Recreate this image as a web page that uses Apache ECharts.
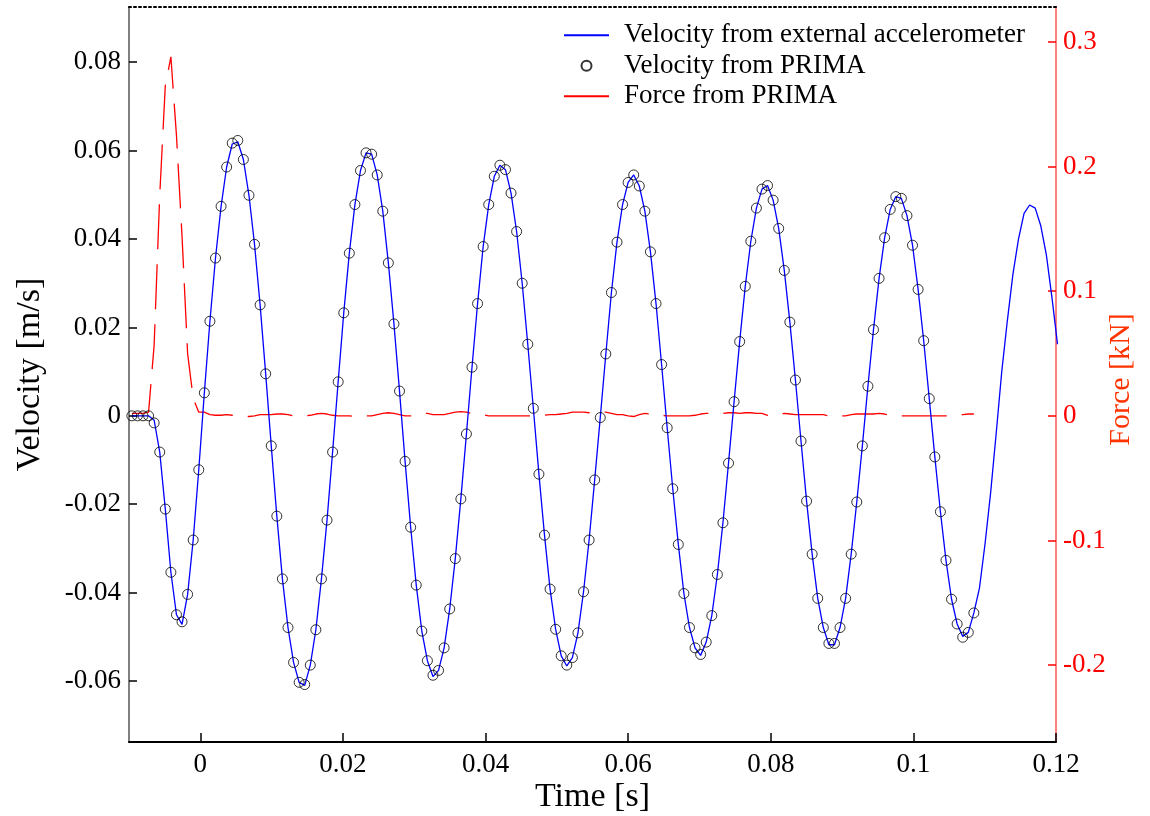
<!DOCTYPE html>
<html>
<head>
<meta charset="utf-8">
<script src="https://cdn.jsdelivr.net/npm/echarts@6/dist/echarts.min.js"></script>
<style>
  html, body { margin: 0; padding: 0; background: #fff; }
  #chart { width: 1150px; height: 816px; }
</style>
</head>
<body>
<div id="chart"></div>
<script>
// PRIMA samples every ~0.78 ms starting before impact
const sampleStart = -0.0096;
const sampleStep = 0.000782;

const timeTicks = [0, 0.02, 0.04, 0.06, 0.08, 0.1, 0.12];
const velocityTicks = [-0.06, -0.04, -0.02, 0, 0.02, 0.04, 0.06, 0.08];
const forceTicks = [-0.2, -0.1, 0, 0.1, 0.2, 0.3];

// velocity from PRIMA [m/s] (circles)
const velocityPrima = [
  0, 0, 0, 0, -0.0016, -0.0082, -0.0211, -0.0354, -0.0450, -0.0466,
  -0.0404, -0.0281, -0.0122, 0.0052, 0.0214, 0.0357, 0.0474, 0.0563, 0.0617, 0.0623,
  0.0580, 0.0499, 0.0388, 0.0251, 0.0095, -0.0068, -0.0227, -0.0369, -0.0479, -0.0558,
  -0.0603, -0.0608, -0.0564, -0.0484, -0.0369, -0.0236, -0.0082, 0.0077, 0.0233, 0.0368,
  0.0478, 0.0555, 0.0595, 0.0592, 0.0545, 0.0463, 0.0346, 0.0208, 0.0056, -0.0103,
  -0.0252, -0.0383, -0.0487, -0.0554, -0.0587, -0.0576, -0.0525, -0.0437, -0.0323, -0.0188,
  -0.0041, 0.0110, 0.0254, 0.0383, 0.0478, 0.0542, 0.0567, 0.0557, 0.0504, 0.0417,
  0.0300, 0.0162, 0.0017, -0.0132, -0.0270, -0.0392, -0.0483, -0.0543, -0.0564, -0.0547,
  -0.0491, -0.0398, -0.0281, -0.0145, -0.0004, 0.0140, 0.0279, 0.0393, 0.0478, 0.0528,
  0.0545, 0.0520, 0.0463, 0.0371, 0.0254, 0.0116, -0.0027, -0.0165, -0.0291, -0.0402,
  -0.0479, -0.0525, -0.0540, -0.0512, -0.0452, -0.0359, -0.0242, -0.0107, 0.0032, 0.0168,
  0.0293, 0.0395, 0.0470, 0.0513, 0.0521, 0.0488, 0.0424, 0.0329, 0.0212, 0.0081,
  -0.0057, -0.0193, -0.0313, -0.0413, -0.0479, -0.0515, -0.0515, -0.0479, -0.0413, -0.0313,
  -0.0195, -0.0068, 0.0067, 0.0195, 0.0311, 0.0403, 0.0467, 0.0496, 0.0492, 0.0453,
  0.0386, 0.0286, 0.0170, 0.0039, -0.0093, -0.0217, -0.0327, -0.0415, -0.0471, -0.0501,
  -0.0490, -0.0446
];

// velocity from external accelerometer [m/s] (blue line, runs a bit longer)
const velocityAccel = [
  0, 0, 0, 0, -0.0010, -0.0082, -0.0211, -0.0354, -0.0450, -0.0472,
  -0.0404, -0.0281, -0.0122, 0.0052, 0.0214, 0.0357, 0.0474, 0.0563, 0.0615, 0.0620,
  0.0580, 0.0499, 0.0388, 0.0251, 0.0095, -0.0068, -0.0227, -0.0369, -0.0479, -0.0558,
  -0.0603, -0.0610, -0.0564, -0.0484, -0.0369, -0.0236, -0.0082, 0.0077, 0.0233, 0.0368,
  0.0478, 0.0555, 0.0595, 0.0592, 0.0545, 0.0463, 0.0346, 0.0208, 0.0056, -0.0103,
  -0.0252, -0.0383, -0.0487, -0.0554, -0.0590, -0.0576, -0.0525, -0.0437, -0.0323, -0.0188,
  -0.0041, 0.0110, 0.0254, 0.0383, 0.0478, 0.0542, 0.0567, 0.0557, 0.0504, 0.0417,
  0.0300, 0.0162, 0.0017, -0.0132, -0.0270, -0.0392, -0.0483, -0.0543, -0.0566, -0.0547,
  -0.0491, -0.0398, -0.0281, -0.0145, -0.0004, 0.0140, 0.0279, 0.0393, 0.0478, 0.0528,
  0.0545, 0.0520, 0.0463, 0.0371, 0.0254, 0.0116, -0.0027, -0.0165, -0.0291, -0.0402,
  -0.0479, -0.0525, -0.0542, -0.0512, -0.0452, -0.0359, -0.0242, -0.0107, 0.0032, 0.0168,
  0.0293, 0.0395, 0.0470, 0.0513, 0.0521, 0.0488, 0.0424, 0.0329, 0.0212, 0.0081,
  -0.0057, -0.0193, -0.0313, -0.0413, -0.0479, -0.0518, -0.0518, -0.0479, -0.0413, -0.0313,
  -0.0195, -0.0068, 0.0067, 0.0195, 0.0311, 0.0403, 0.0467, 0.0496, 0.0492, 0.0453,
  0.0386, 0.0286, 0.0170, 0.0039, -0.0093, -0.0217, -0.0327, -0.0415, -0.0471, -0.0499,
  -0.0490, -0.0446, -0.0390, -0.0290, -0.0175, -0.0040, 0.0100, 0.0215, 0.0320, 0.0400,
  0.0458, 0.0477, 0.0470, 0.0430, 0.0364, 0.0268, 0.0162
];

// force from PRIMA [kN] (red dashed)
const forcePrima = [
  0.002, 0.002, 0.002, 0.003, 0.057, 0.177, 0.265, 0.288, 0.225, 0.144,
  0.050, 0.014, 0.003, 0.003, 0.001, 0.0005, 0.0005, 0.001, 0.0005, 0,
  -0.0005, -0.0005, 0, 0.001, 0.001, 0.001, 0.0015, 0.0015, 0.001, 0,
  0, 0, 0.0005, 0.0015, 0.002, 0.0015, 0.0005, 0, 0, 0,
  -0.0005, 0, 0, 0, 0.001, 0.002, 0.0025, 0.002, 0.001, 0,
  0, 0.0005, 0.002, 0.002, 0.001, 0.001, 0.001, 0.002, 0.003, 0.0035,
  0.003, 0.002, 0.001, 0.001, 0, 0, 0, 0, 0, 0,
  0, 0, 0, 0, 0.0005, 0.001, 0.001, 0.0015, 0.002, 0.003,
  0.003, 0.003, 0.0025, 0.003, 0.003, 0.003, 0.002, 0.001, 0.001, 0,
  -0.0005, 0.001, 0.002, 0.0015, 0.0005, 0.0005, 0, 0, 0, 0,
  0, 0.0005, 0.0015, 0.002, 0.002, 0.002, 0.002, 0.0025, 0.0025, 0.002,
  0.0025, 0.0025, 0.002, 0.002, 0.0005, 0, 0.0015, 0.002, 0.0015, 0.001,
  0.001, 0.001, 0.001, 0.001, 0.001, 0, -0.0005, 0, 0, 0.001,
  0.0015, 0.0015, 0.0015, 0.0015, 0.002, 0.0015, 0.0005, 0, 0, 0,
  0, 0, 0, 0, 0, 0, 0, 0.0005, 0.0005, 0.001,
  0.0015, 0.0015
];

const serif = '"Liberation Serif", "DejaVu Serif", serif';
const at = (values) => values.map((v, i) => [sampleStart + i * sampleStep, v]);
const label = (v) => String(Math.round(v * 100) / 100);

const chart = echarts.init(document.getElementById('chart'));
chart.setOption({
  animation: false,
  backgroundColor: '#fff',
  grid: { left: 129, right: 94, top: 7, bottom: 74, outerBoundsMode: 'none', containLabel: false },
  legend: {
    orient: 'vertical',
    left: 558,
    top: 15,
    itemWidth: 45,
    itemHeight: 10,
    itemGap: 0,
    textStyle: { fontFamily: serif, fontSize: 27, color: '#000', lineHeight: 30.5, padding: [0, 0, 0, 10] },
    data: [
      { name: 'Velocity from external accelerometer', itemStyle: { opacity: 0 } },
      { name: 'Velocity from PRIMA' },
      { name: 'Force from PRIMA', itemStyle: { opacity: 0 } },
    ],
  },
  xAxis: [
    {
      type: 'value',
      min: -0.01,
      max: 0.12,
      name: 'Time [s]',
      nameLocation: 'middle',
      nameGap: 38,
      nameMoveOverlap: false,
      nameTextStyle: { fontFamily: serif, fontSize: 34, color: '#000' },
      axisLine: { onZero: false, lineStyle: { color: '#000', width: 2 } },
      axisTick: { inside: true, length: 9, lineStyle: { color: '#000', width: 1.5 }, customValues: timeTicks },
      axisLabel: { fontFamily: serif, fontSize: 27, color: '#000', margin: 9, customValues: timeTicks, formatter: label },
      splitLine: { show: false },
    },
    {
      type: 'value',
      position: 'top',
      min: -0.01,
      max: 0.12,
      axisLine: { onZero: false, lineStyle: { color: '#000', width: 2, type: [2, 3] } },
      axisTick: { show: false },
      axisLabel: { show: false },
      splitLine: { show: false },
    },
  ],
  yAxis: [
    {
      type: 'value',
      min: -0.0738,
      max: 0.0925,
      name: 'Velocity [m/s]',
      nameLocation: 'middle',
      nameRotate: 90,
      nameGap: 82,
      nameMoveOverlap: false,
      nameTextStyle: { fontFamily: serif, fontSize: 34, color: '#000' },
      axisLine: { show: true, onZero: false, lineStyle: { color: '#808080', width: 2 } },
      axisTick: { show: true, inside: true, length: 8, lineStyle: { color: '#000', width: 1.5 }, customValues: velocityTicks },
      axisLabel: { fontFamily: serif, fontSize: 27, color: '#000', margin: 8, customValues: velocityTicks, formatter: label },
      splitLine: { show: false },
    },
    {
      type: 'value',
      position: 'right',
      min: -0.2616,
      max: 0.328,
      name: 'Force [kN]',
      nameLocation: 'middle',
      nameRotate: 90,
      nameGap: 50,
      nameMoveOverlap: false,
      nameTextStyle: { fontFamily: serif, fontSize: 30, color: '#ff3300', padding: [0, 10, 0, 0] },
      axisLine: { show: true, onZero: false, lineStyle: { color: '#ff8080', width: 2 } },
      axisTick: { show: true, inside: true, length: 8, lineStyle: { color: '#ff0000', width: 1.5 }, customValues: forceTicks },
      axisLabel: { fontFamily: serif, fontSize: 27, color: '#ff0000', margin: 7, customValues: forceTicks, formatter: label },
      splitLine: { show: false },
    },
  ],
  series: [
    {
      name: 'Force from PRIMA',
      type: 'line',
      yAxisIndex: 1,
      z: 1,
      symbol: 'none',
      data: at(forcePrima),
      lineStyle: { color: '#ff0000', width: 1.3, type: [45, 15] },
      itemStyle: { color: '#ff0000' },
    },
    {
      name: 'Velocity from external accelerometer',
      type: 'line',
      yAxisIndex: 0,
      z: 2,
      symbol: 'none',
      clip: false,
      data: at(velocityAccel),
      lineStyle: { color: '#0000ff', width: 1.3 },
      itemStyle: { color: '#0000ff' },
    },
    {
      name: 'Velocity from PRIMA',
      type: 'scatter',
      yAxisIndex: 0,
      z: 3,
      symbol: 'circle',
      symbolSize: 10,
      data: at(velocityPrima),
      itemStyle: { color: 'transparent', borderColor: '#000', borderWidth: 1 },
    },
  ],
});
</script>
</body>
</html>
